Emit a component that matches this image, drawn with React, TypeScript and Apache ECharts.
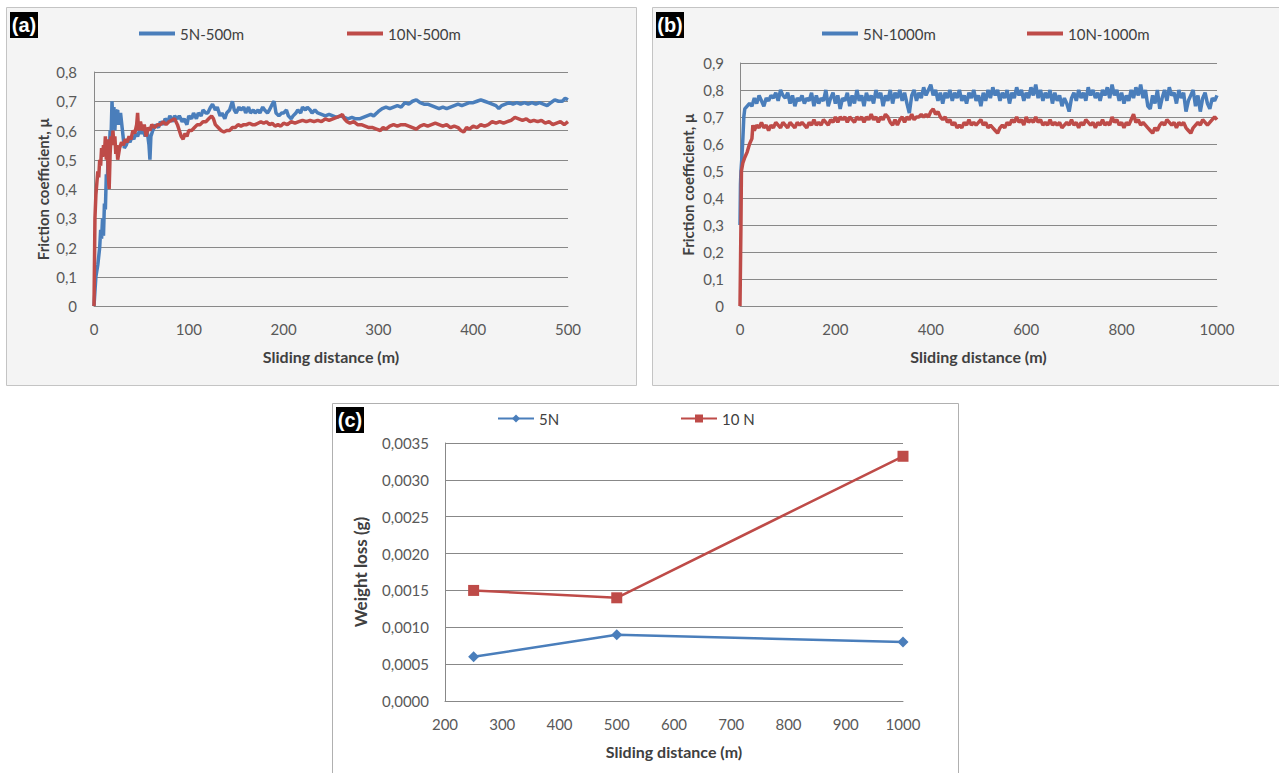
import React, { useEffect, useRef } from 'react';
import * as echarts from 'echarts';

// ---------- Data ----------
// (a) friction coefficient vs sliding distance, 500 m tests: [distance (m), mu]
const friction5N500m: [number, number][] = [
  [0,0],[2,0.1],[4,0.14],[6,0.2],[7,0.26],[8,0.23],[9,0.3],[10,0.24],[11,0.35],[12,0.33],[13,0.45],[14,0.42],[15,0.52],[16,0.5],[17,0.6],[18,0.58],[19,0.7],[20,0.62],[21,0.68],[22,0.6],[23,0.66],[25,0.67],[26,0.62],[28,0.66],[30,0.6],[32,0.54],[34,0.55],[36,0.57],[38,0.56],[40,0.58],[42,0.57],[44,0.59],[46,0.58],[48,0.6],[50,0.59],[52,0.6],[54,0.58],[56,0.6],[58,0.55],[59,0.5],[60,0.58],[62,0.6],[65,0.62],[68,0.61],[70,0.63],[73,0.62],[75,0.64],[78,0.63],[80,0.65],[83,0.63],[85,0.65],[88,0.64],[90,0.65],[93,0.63],[95,0.64],[98,0.62],[100,0.65],[103,0.64],[105,0.66],[108,0.64],[110,0.66],[113,0.65],[115,0.67],[118,0.66],[120,0.66],[123,0.68],[125,0.69],[128,0.67],[130,0.68],[133,0.65],[135,0.66],[138,0.64],[140,0.66],[143,0.67],[146,0.7],[148,0.67],[150,0.66],[153,0.68],[155,0.67],[158,0.68],[160,0.66],[163,0.68],[165,0.66],[168,0.67],[170,0.66],[173,0.67],[175,0.66],[178,0.68],[180,0.67],[183,0.66],[185,0.67],[188,0.69],[190,0.7],[192,0.66],[195,0.65],[198,0.66],[200,0.66],[203,0.67],[205,0.65],[208,0.64],[210,0.65],[213,0.66],[215,0.67],[218,0.66],[220,0.68],[223,0.67],[225,0.68],[228,0.67],[230,0.66],[233,0.67],[236,0.66],[240,0.655],[244,0.65],[248,0.655],[252,0.65],[256,0.645],[260,0.65],[264,0.645],[268,0.64],[272,0.645],[276,0.64],[280,0.64],[284,0.645],[288,0.65],[292,0.655],[295,0.65],[300,0.665],[304,0.675],[308,0.68],[312,0.675],[316,0.68],[320,0.685],[324,0.68],[328,0.695],[332,0.69],[336,0.7],[340,0.705],[344,0.695],[348,0.69],[352,0.69],[356,0.685],[360,0.68],[364,0.675],[368,0.68],[372,0.675],[376,0.68],[380,0.685],[384,0.69],[388,0.685],[392,0.69],[396,0.695],[400,0.695],[404,0.7],[408,0.705],[412,0.7],[416,0.695],[420,0.69],[424,0.685],[427,0.675],[430,0.685],[434,0.69],[438,0.695],[442,0.69],[446,0.695],[450,0.69],[454,0.695],[458,0.69],[462,0.695],[466,0.69],[470,0.695],[474,0.69],[478,0.685],[482,0.695],[486,0.705],[490,0.7],[494,0.7],[497,0.71],[500,0.705]
];
const friction10N500m: [number, number][] = [
  [0,0],[1,0.3],[2,0.38],[3,0.42],[4,0.46],[5,0.44],[6,0.5],[7,0.48],[8,0.54],[9,0.51],[10,0.55],[11,0.52],[12,0.58],[13,0.5],[14,0.57],[15,0.45],[16,0.4],[17,0.52],[18,0.58],[19,0.55],[20,0.6],[21,0.55],[22,0.58],[23,0.52],[24,0.55],[25,0.5],[27,0.54],[29,0.56],[31,0.55],[33,0.57],[35,0.56],[37,0.58],[39,0.57],[41,0.6],[43,0.59],[45,0.62],[46,0.66],[47,0.6],[49,0.63],[51,0.6],[53,0.62],[55,0.58],[57,0.61],[59,0.6],[61,0.62],[64,0.61],[67,0.62],[70,0.62],[73,0.63],[76,0.62],[79,0.63],[82,0.635],[85,0.64],[88,0.62],[90,0.6],[92,0.58],[94,0.57],[96,0.59],[98,0.58],[100,0.6],[103,0.6],[106,0.61],[109,0.62],[112,0.62],[115,0.63],[118,0.63],[121,0.64],[124,0.65],[126,0.64],[128,0.62],[131,0.61],[134,0.6],[137,0.595],[140,0.6],[143,0.6],[146,0.61],[149,0.61],[152,0.62],[155,0.615],[158,0.62],[161,0.62],[164,0.625],[167,0.62],[170,0.62],[173,0.625],[176,0.63],[179,0.625],[182,0.63],[185,0.62],[188,0.625],[191,0.615],[194,0.62],[197,0.615],[200,0.625],[204,0.62],[208,0.63],[212,0.625],[216,0.63],[220,0.635],[224,0.63],[228,0.635],[232,0.63],[236,0.635],[240,0.63],[244,0.64],[248,0.635],[252,0.64],[256,0.645],[260,0.65],[262,0.655],[264,0.64],[267,0.63],[270,0.625],[274,0.63],[278,0.62],[282,0.62],[286,0.615],[290,0.61],[294,0.61],[298,0.605],[302,0.6],[305,0.61],[308,0.605],[312,0.615],[316,0.62],[320,0.615],[324,0.62],[328,0.62],[332,0.615],[336,0.61],[340,0.605],[344,0.615],[348,0.62],[352,0.615],[356,0.62],[360,0.625],[364,0.62],[368,0.615],[372,0.62],[376,0.61],[380,0.615],[384,0.61],[387,0.6],[390,0.595],[393,0.61],[396,0.605],[400,0.615],[404,0.61],[408,0.62],[412,0.615],[416,0.62],[420,0.63],[424,0.625],[428,0.63],[432,0.625],[436,0.63],[440,0.635],[444,0.645],[448,0.64],[452,0.635],[456,0.64],[460,0.63],[464,0.635],[468,0.63],[472,0.635],[476,0.625],[480,0.63],[484,0.62],[488,0.625],[492,0.63],[496,0.62],[500,0.63]
];

// (b) friction coefficient vs sliding distance, 1000 m tests
const friction5N1000m: [number, number][] = [
  [0,0.3],[1,0.45],[2,0.5],[4,0.55],[6,0.62],[8,0.7],[10,0.73],[15,0.74],[20,0.75],[25,0.74],[30,0.77],[35,0.75],[40,0.78],[45,0.76],[50,0.74],[55,0.77],[60,0.76],[65,0.78],[70,0.77],[75,0.79],[80,0.76],[85,0.8],[90,0.78],[95,0.77],[100,0.79],[105,0.75],[110,0.78],[115,0.74],[120,0.77],[125,0.76],[130,0.78],[135,0.75],[140,0.77],[145,0.76],[150,0.79],[155,0.74],[160,0.78],[165,0.75],[170,0.77],[175,0.76],[180,0.8],[185,0.74],[190,0.77],[195,0.79],[200,0.75],[205,0.78],[210,0.73],[215,0.77],[220,0.76],[225,0.79],[230,0.74],[235,0.78],[240,0.75],[245,0.8],[250,0.76],[255,0.78],[260,0.74],[265,0.79],[270,0.76],[275,0.78],[280,0.75],[285,0.8],[290,0.77],[295,0.79],[300,0.74],[305,0.78],[310,0.76],[315,0.8],[320,0.75],[325,0.79],[330,0.77],[335,0.8],[340,0.76],[345,0.79],[350,0.75],[355,0.715],[360,0.78],[365,0.8],[370,0.76],[375,0.79],[380,0.77],[385,0.81],[390,0.78],[395,0.8],[400,0.82],[405,0.78],[410,0.8],[415,0.76],[420,0.79],[425,0.75],[430,0.79],[435,0.77],[440,0.8],[445,0.76],[450,0.79],[455,0.77],[460,0.8],[465,0.76],[470,0.78],[475,0.75],[480,0.79],[485,0.77],[490,0.8],[495,0.76],[500,0.78],[505,0.74],[510,0.79],[515,0.76],[520,0.8],[525,0.77],[530,0.81],[535,0.78],[540,0.8],[545,0.76],[550,0.79],[555,0.77],[560,0.8],[565,0.75],[570,0.79],[575,0.77],[580,0.81],[585,0.78],[590,0.8],[595,0.76],[600,0.79],[605,0.77],[610,0.81],[615,0.78],[620,0.82],[625,0.77],[630,0.8],[635,0.76],[640,0.79],[645,0.77],[650,0.8],[655,0.75],[660,0.79],[665,0.76],[670,0.78],[675,0.74],[680,0.77],[685,0.75],[690,0.72],[695,0.77],[700,0.79],[705,0.76],[710,0.8],[715,0.77],[720,0.79],[725,0.76],[730,0.81],[735,0.78],[740,0.8],[745,0.77],[750,0.79],[755,0.76],[760,0.8],[765,0.78],[770,0.81],[775,0.77],[780,0.82],[785,0.78],[790,0.8],[795,0.76],[800,0.79],[805,0.75],[810,0.78],[815,0.76],[820,0.8],[825,0.77],[830,0.81],[835,0.78],[840,0.82],[845,0.77],[850,0.8],[855,0.74],[860,0.73],[865,0.78],[870,0.75],[875,0.8],[880,0.73],[885,0.77],[890,0.8],[895,0.76],[900,0.81],[905,0.78],[910,0.79],[915,0.75],[920,0.8],[925,0.77],[930,0.79],[935,0.72],[940,0.76],[945,0.78],[950,0.8],[955,0.74],[960,0.78],[965,0.72],[970,0.77],[975,0.79],[980,0.75],[985,0.73],[990,0.77],[995,0.76],[1000,0.78]
];
const friction10N1000m: [number, number][] = [
  [0,0],[2,0.3],[3,0.5],[6,0.53],[10,0.55],[15,0.57],[20,0.6],[25,0.62],[27,0.67],[30,0.65],[35,0.67],[40,0.66],[45,0.68],[50,0.66],[55,0.67],[60,0.65],[65,0.67],[70,0.66],[75,0.68],[80,0.67],[85,0.66],[90,0.68],[95,0.67],[100,0.66],[105,0.68],[110,0.67],[115,0.66],[120,0.68],[125,0.67],[130,0.68],[135,0.67],[140,0.66],[145,0.68],[150,0.67],[155,0.69],[160,0.67],[165,0.68],[170,0.67],[175,0.69],[180,0.68],[185,0.67],[190,0.69],[195,0.68],[200,0.7],[205,0.68],[210,0.7],[215,0.69],[220,0.7],[225,0.68],[230,0.7],[235,0.69],[240,0.68],[245,0.7],[250,0.69],[255,0.7],[260,0.68],[265,0.7],[270,0.69],[275,0.71],[280,0.69],[285,0.7],[290,0.68],[295,0.7],[300,0.69],[305,0.71],[310,0.7],[315,0.68],[320,0.67],[325,0.69],[330,0.67],[335,0.69],[340,0.7],[345,0.68],[350,0.7],[355,0.69],[360,0.71],[365,0.69],[370,0.7],[375,0.7],[380,0.71],[385,0.7],[390,0.71],[395,0.7],[400,0.72],[405,0.73],[410,0.71],[415,0.72],[420,0.7],[425,0.69],[430,0.7],[435,0.68],[440,0.69],[445,0.67],[450,0.68],[455,0.66],[460,0.67],[465,0.66],[470,0.68],[475,0.67],[480,0.69],[485,0.67],[490,0.68],[495,0.67],[500,0.68],[505,0.69],[510,0.67],[515,0.68],[520,0.66],[525,0.67],[530,0.66],[535,0.65],[540,0.64],[545,0.66],[550,0.67],[555,0.66],[560,0.68],[565,0.67],[570,0.69],[575,0.68],[580,0.7],[585,0.68],[590,0.69],[595,0.67],[600,0.7],[605,0.68],[610,0.69],[615,0.68],[620,0.7],[625,0.68],[630,0.69],[635,0.67],[640,0.68],[645,0.67],[650,0.69],[655,0.67],[660,0.68],[665,0.67],[670,0.68],[675,0.66],[680,0.67],[685,0.68],[690,0.67],[695,0.69],[700,0.67],[705,0.68],[710,0.66],[715,0.68],[720,0.67],[725,0.69],[730,0.68],[735,0.67],[740,0.68],[745,0.66],[750,0.68],[755,0.67],[760,0.69],[765,0.67],[770,0.68],[775,0.67],[780,0.7],[785,0.68],[790,0.69],[795,0.67],[800,0.68],[805,0.66],[810,0.68],[815,0.67],[820,0.69],[825,0.71],[830,0.68],[835,0.69],[840,0.67],[845,0.68],[850,0.67],[855,0.66],[860,0.65],[865,0.64],[870,0.66],[875,0.65],[880,0.67],[885,0.68],[890,0.67],[895,0.69],[900,0.68],[905,0.67],[910,0.68],[915,0.66],[920,0.68],[925,0.67],[930,0.68],[935,0.66],[940,0.65],[945,0.64],[950,0.66],[955,0.67],[960,0.68],[965,0.67],[970,0.69],[975,0.68],[980,0.67],[985,0.68],[990,0.69],[995,0.7],[1000,0.69]
];

// (c) weight loss vs sliding distance
const wearDistances = [250, 500, 1000];
const weightLoss5N = [0.0006, 0.0009, 0.0008];
const weightLoss10N = [0.0015, 0.0014, 0.00332];

// Series / legend names
const namesA = ['5N-500m', '10N-500m'];
const namesB = ['5N-1000m', '10N-1000m'];
const namesC = ['5N', '10 N'];
const panelLabels = ['(a)', '(b)', '(c)'];
const xTitle = 'Sliding distance (m)';
const yTitleFriction = 'Friction coefficient, µ';
const yTitleWear = 'Weight loss (g)';

// ---------- Styles ----------
const BLUE = '#4a7ebb';
const RED = '#be4b48';
const GRID = '#888888';
const LABEL = '#595959';
const TITLE = '#404040';
const FONT = 'Lato, "Open Sans", sans-serif';

const fmt1 = (v: number) => (v === 0 ? '0' : v.toFixed(1).replace('.', ','));
const fmt4 = (v: number) => v.toFixed(4).replace('.', ',');
const fmtInt = (v: number) => String(Math.round(v));

function axisBase(gridIndex: number, titleSize: number) {
  return {
    gridIndex,
    type: 'value' as const,
    nameLocation: 'middle' as const,
    axisLine: { show: true, lineStyle: { color: GRID, width: 1 } },
    axisTick: { show: false },
    nameTextStyle: { color: TITLE, fontSize: titleSize, fontWeight: 'bold' as const, fontFamily: FONT },
  };
}
const tickLabel = (margin: number, formatter: (v: number) => string) => ({
  color: LABEL, fontSize: 15, fontFamily: FONT, margin, formatter,
});

export default function App() {
  const ref = useRef<HTMLDivElement>(null);

  useEffect(() => {
    if (!ref.current) return;
    const chart = echarts.init(ref.current, undefined, { renderer: 'svg' });

    const legendText = { color: TITLE, fontSize: 15, fontFamily: FONT };
    const lineLegend = (name: string, left: number, top: number) => ({
      data: [name], left, top, itemWidth: 36, itemHeight: 4, itemGap: 0, icon: 'rect',
      textStyle: legendText, selectedMode: false,
    });
    const markLegend = (name: string, left: number, top: number) => ({
      data: [name], left, top, itemWidth: 36, itemHeight: 10, itemGap: 0,
      textStyle: legendText, selectedMode: false,
    });

    const panelLabel = (text: string, x: number, y: number) => ({
      type: 'group', x, y, z: 100,
      children: [
        { type: 'rect', shape: { x: 0, y: 0, width: 28, height: 26 }, style: { fill: '#000' } },
        {
          type: 'text', x: 14, y: 13,
          style: { text, fill: '#fff', font: 'bold 20px "Liberation Sans", Arial, sans-serif', align: 'center', verticalAlign: 'middle' },
        },
      ],
    });

    const splitLine = { show: true, lineStyle: { color: GRID, width: 1 } };

    const option: any = {
      animation: false,
      backgroundColor: '#ffffff',
      graphic: [
        { type: 'rect', z: -10, shape: { x: 6.5, y: 7.5, width: 630, height: 378 }, style: { fill: '#f4f4f4', stroke: '#c4c4c4', lineWidth: 1 } },
        { type: 'rect', z: -10, shape: { x: 652.5, y: 7.5, width: 630, height: 378 }, style: { fill: '#f4f4f4', stroke: '#c4c4c4', lineWidth: 1 } },
        { type: 'rect', z: -10, shape: { x: 332.5, y: 403.5, width: 626, height: 380 }, style: { fill: '#ffffff', stroke: '#b0b0b0', lineWidth: 1 } },
        panelLabel(panelLabels[0], 10, 12),
        panelLabel(panelLabels[1], 656, 12),
        panelLabel(panelLabels[2], 336, 407),
      ],
      legend: [
        lineLegend(namesA[0], 134, 21),
        lineLegend(namesA[1], 342, 21),
        lineLegend(namesB[0], 817, 21),
        lineLegend(namesB[1], 1022, 21),
        markLegend(namesC[0], 492, 406),
        markLegend(namesC[1], 675, 406),
      ],
      grid: [
        { left: 94, top: 72, width: 474, height: 234 },
        { left: 740, top: 63, width: 477, height: 243 },
        { left: 445, top: 443, width: 458, height: 258 },
      ],
      xAxis: [
        { ...axisBase(0, 16), min: 0, max: 500, interval: 100, splitLine: { show: false }, name: xTitle, nameGap: 42, axisLabel: tickLabel(15, fmtInt) },
        { ...axisBase(1, 16), min: 0, max: 1000, interval: 200, splitLine: { show: false }, name: xTitle, nameGap: 42, axisLabel: tickLabel(15, fmtInt) },
        { ...axisBase(2, 16), min: 200, max: 1000, interval: 100, splitLine: { show: false }, name: xTitle, nameGap: 42, axisLabel: tickLabel(15, fmtInt) },
      ],
      yAxis: [
        { ...axisBase(0, 15), min: 0, max: 0.8, interval: 0.1, splitLine, name: yTitleFriction, nameGap: 44, axisLabel: tickLabel(17, fmt1) },
        { ...axisBase(1, 15), min: 0, max: 0.9, interval: 0.1, splitLine, name: yTitleFriction, nameGap: 45, axisLabel: tickLabel(16, fmt1) },
        { ...axisBase(2, 17), min: 0, max: 0.0035, interval: 0.0005, splitLine, name: yTitleWear, nameGap: 76, axisLabel: tickLabel(16, fmt4) },
      ],
      series: [
        { name: namesA[0], type: 'line', xAxisIndex: 0, yAxisIndex: 0, data: friction5N500m, symbol: 'none', color: BLUE, lineStyle: { width: 3.5, color: BLUE } },
        { name: namesA[1], type: 'line', xAxisIndex: 0, yAxisIndex: 0, data: friction10N500m, symbol: 'none', color: RED, lineStyle: { width: 3.5, color: RED } },
        { name: namesB[0], type: 'line', xAxisIndex: 1, yAxisIndex: 1, data: friction5N1000m, symbol: 'none', color: BLUE, lineStyle: { width: 3.5, color: BLUE } },
        { name: namesB[1], type: 'line', xAxisIndex: 1, yAxisIndex: 1, data: friction10N1000m, symbol: 'none', color: RED, lineStyle: { width: 3.5, color: RED } },
        {
          name: namesC[0], type: 'line', xAxisIndex: 2, yAxisIndex: 2,
          data: wearDistances.map((d, i) => [d, weightLoss5N[i]]),
          symbol: 'diamond', symbolSize: 11, color: BLUE,
          lineStyle: { width: 2.5, color: BLUE }, itemStyle: { color: BLUE },
        },
        {
          name: namesC[1], type: 'line', xAxisIndex: 2, yAxisIndex: 2,
          data: wearDistances.map((d, i) => [d, weightLoss10N[i]]),
          symbol: 'rect', symbolSize: 11, color: RED,
          lineStyle: { width: 2.5, color: RED }, itemStyle: { color: RED },
        },
      ],
    };

    chart.setOption(option);
    return () => chart.dispose();
  }, []);

  return (
    <div
      ref={ref}
      style={{ position: 'absolute', left: 0, top: 0, width: 1279, height: 773 }}
    />
  );
}
